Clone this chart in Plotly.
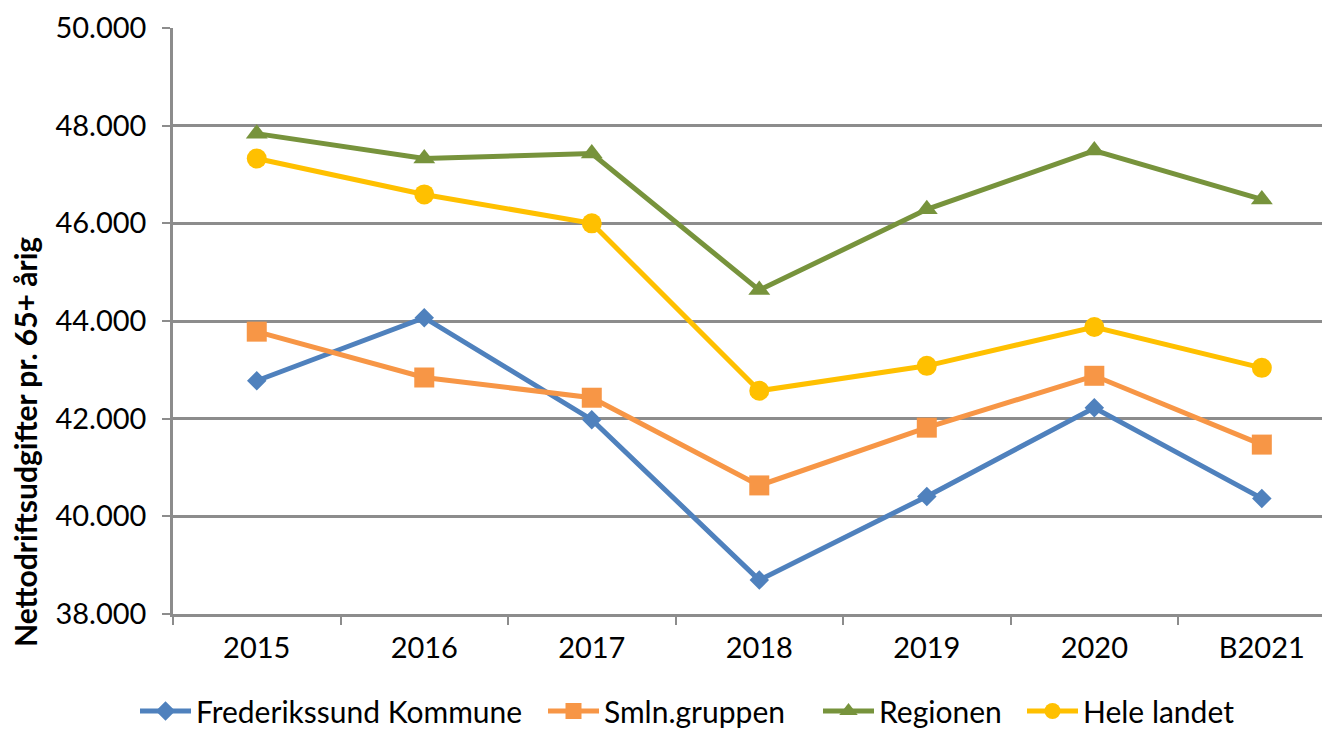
import plotly.graph_objects as go

categories = ["2015", "2016", "2017", "2018", "2019", "2020", "B2021"]
frederikssund = [42776, 44067, 41980, 38694, 40408, 42224, 40367]
smln_gruppen = [43782, 42843, 42429, 40633, 41816, 42878, 41469]
regionen = [47837, 47327, 47429, 44633, 46286, 47490, 46490]
hele_landet = [47327, 46592, 46000, 42571, 43082, 43878, 43041]

y_ticks = [38000, 40000, 42000, 44000, 46000, 48000, 50000]
y_ticktext = ["38.000", "40.000", "42.000", "44.000", "46.000", "48.000", "50.000"]
y_title = "Nettodriftsudgifter pr. 65+ årig"

series = [
    ("Frederikssund Kommune", frederikssund, "#4F81BD", "diamond", 15),
    ("Smln.gruppen", smln_gruppen, "#F79646", "square", 20),
    ("Regionen", regionen, "#77933C", "triangle-up", 19),
    ("Hele landet", hele_landet, "#FFC000", "circle", 20),
]

W, H = 1322, 723          # page has an 8px body margin
OFF = 8
PLOT_TOP, PLOT_BOTTOM = 28, 614            # page y
legend_marker_px = [155, 563, 838, 1042]   # page x reference for legend items
legend_y_px = 711

fig = go.Figure()
for i, (name, vals, color, sym, size) in enumerate(series):
    lg = "legend" if i == 0 else f"legend{i+1}"
    fig.add_trace(go.Scatter(
        x=categories, y=vals, name=name, mode="lines+markers",
        line=dict(color=color, width=5),
        marker=dict(symbol=sym, size=size, color=color, line=dict(width=0)),
        legend=lg,
    ))

font_family = "Lato, Carlito, Calibri, sans-serif"
layout_legends = {}
for i, mx in enumerate(legend_marker_px):
    key = "legend" if i == 0 else f"legend{i+1}"
    layout_legends[key] = dict(
        orientation="h", xref="container", yref="container",
        x=(mx - OFF - 20) / W, xanchor="left",
        y=(H - (legend_y_px - OFF)) / H, yanchor="middle",
        font=dict(size=30, family=font_family, color="black"),
        itemwidth=51, bgcolor="rgba(0,0,0,0)",
    )

fig.update_layout(
    width=W, height=H,
    margin=dict(l=173 - OFF, r=0, t=PLOT_TOP - OFF, b=H - (PLOT_BOTTOM - OFF)),
    paper_bgcolor="white", plot_bgcolor="white",
    font=dict(family=font_family, size=29, color="black"),
    showlegend=True,
    **layout_legends,
)
fig.add_annotation(
    text="<b>" + y_title + "</b>", textangle=-90,
    xref="paper", yref="paper",
    x=(25 - 173) / (W - 165), y=(PLOT_BOTTOM - 442) / (PLOT_BOTTOM - PLOT_TOP),
    xanchor="center", yanchor="middle", showarrow=False,
    font=dict(size=30, family=font_family, color="black"),
)
fig.update_xaxes(
    type="category", range=[-0.5, 6.407], automargin=False,
    tickson="boundaries", ticks="outside", ticklen=8, tickwidth=2, tickcolor="#8c8c8c",
    showline=True, linecolor="#8c8c8c", linewidth=2.5,
    showgrid=False, tickfont=dict(size=29), ticklabelstandoff=6,
    ticklabeloverflow="allow",
)
fig.update_yaxes(
    range=[38000, 50000], tickvals=y_ticks, ticktext=y_ticktext, automargin=False,
    ticks="outside", ticklen=8, tickwidth=2, tickcolor="#8c8c8c",
    showline=True, linecolor="#8c8c8c", linewidth=2.5,
    showgrid=True, gridcolor="#8c8c8c", gridwidth=2.5,
    zeroline=False, tickfont=dict(size=29), ticklabelstandoff=10,
    ticklabeloverflow="allow",
)

fig.write_html("out.html")
